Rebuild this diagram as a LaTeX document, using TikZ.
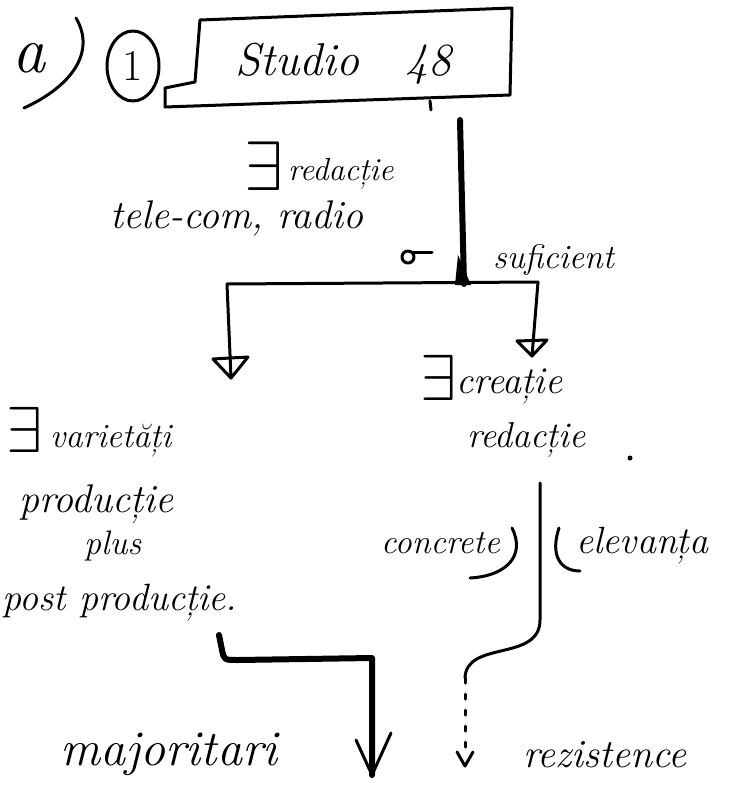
\documentclass[tikz,border=0pt]{standalone}
\usepackage{fontspec}
\usepackage{graphicx}
\usetikzlibrary{shapes.geometric}
\newcommand{\exsign}[1]{\scalebox{#1}{$\exists$}}
\begin{document}
\begin{tikzpicture}[x=1pt,y=-1pt, line cap=round, line join=round,
  ink/.style={line width=3pt},
  heavy/.style={line width=6pt},
  hand/.style={font=\fontsize{#1}{#1}\selectfont\itshape, inner sep=0pt, anchor=base west},
  exsym/.style={inner sep=0pt, anchor=base west},
  tip/.style={line width=3pt}
]
\useasboundingbox[fill=white] (0,0) rectangle (729,800);

% a)
\node[hand=66] (alab) at (12,72) {a};
\draw[ink] (76,18) .. controls (96,52) and (72,86) .. (24,108);

% circled 1
\node[draw, ellipse, line width=3pt, minimum width=52pt, minimum height=70pt,
      font=\fontsize{44}{44}\selectfont] (one) at (133,66) {1};

% Studio 48 box
\draw[ink] (200,20) -- (512,8) -- (510,95) -- (165,107) -- (165,88) -- (195,82) -- cycle;
\node[hand=46] (studio) at (235,75) {Studio\quad 48};
\draw[ink] (430,101) -- (431,110);

% main trunk
\coordinate (top) at (460,120);
\coordinate (j) at (464,284);
\draw[heavy] (top) -- (j);
\fill (458,255) -- (471,285) -- (455,285) -- cycle;

% labels on trunk
\node[exsym] (ex1) at (244,190) {\exsign{7}};
\node[hand=32] (red1) at (288,180) {redacție};
\node[hand=40] (tele) at (110,228) {tele-com, radio};
\draw[ink] (408,257) circle (6);
\draw[ink] (412,252) -- (432,252);
\node[hand=34] (suf) at (493,268) {suficient};

% branches
\coordinate (hl) at (227,284);
\coordinate (hr) at (538,282);
\draw[ink] (hl) -- (hr);
\coordinate (la) at (231,378);
\coordinate (ra) at (532,356);
\draw[ink] (hl) -- (la);
\draw[tip] (213,359) -- (248,357) -- (la) -- cycle;
\draw[ink] (hr) -- (ra);
\draw[tip] (517,341) -- (547,340) -- (ra) -- cycle;

% right branch text
\node[exsym] (ex2) at (420,400) {\exsign{6.5}};
\node[hand=38] (crea) at (456,393) {creație};
\node[hand=36] (red2) at (467,447) {redacție};
\fill (630,458) circle (2.5);

% left branch text
\node[exsym] (ex3) at (6,452) {\exsign{6.5}};
\node[hand=34] (var) at (50,447) {varietăți};
\node[hand=40] (prod) at (19,512) {producție};
\node[hand=34] (plus) at (84,554) {plus};
\node[hand=38] (post) at (2,610) {post producție.};

% right lower split
\coordinate (r1) at (540,483);
\coordinate (r2) at (540,620);
\coordinate (r3) at (465,678);
\coordinate (r4) at (465,766);
\draw[ink] (r1) -- (r2) .. controls (540,662) and (466,640) .. (r3);
\draw[ink, dash pattern=on 5pt off 11pt] (r3) -- (465,752);
\draw[tip] (457,752) -- (r4) -- (473,752);
\draw[ink] (512,528) .. controls (526,556) and (506,576) .. (470,578);
\draw[ink] (559,528) .. controls (550,555) and (560,571) .. (580,571);
\node[hand=34] (conc) at (381,553) {concrete};
\node[hand=38] (elev) at (576,553) {elevanța};

% left lower path
\coordinate (l1) at (219,635);
\coordinate (l2) at (372,775);
\draw[heavy] (l1) -- (222,650) .. controls (224,660) .. (238,660) -- (372,658) -- (l2);
\draw[tip] (356,740) -- (l2) -- (391,733);

% bottom labels
\node[hand=50] (maj) at (60,765) {majoritari};
\node[hand=40] (rez) at (523,767) {rezistence};
\end{tikzpicture}
\end{document}
